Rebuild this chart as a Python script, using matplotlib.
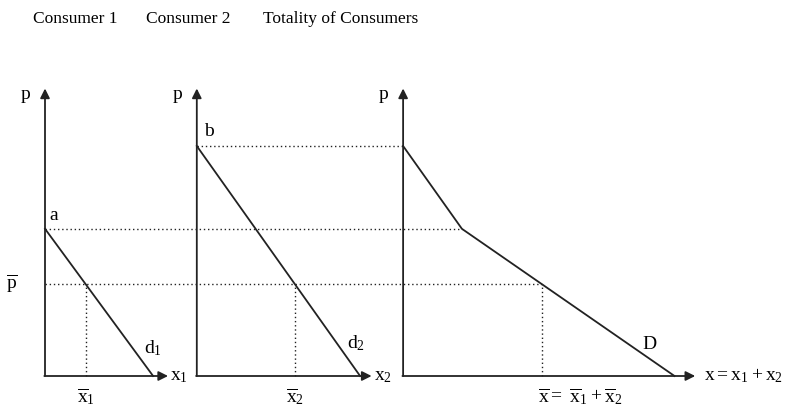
import matplotlib.pyplot as plt
import numpy as np

plt.rcParams['font.family'] = ['Liberation Serif', 'DejaVu Serif']
plt.rcParams['mathtext.fontset'] = 'custom'
plt.rcParams['mathtext.rm'] = 'Liberation Serif'
plt.rcParams['mathtext.it'] = 'Liberation Serif'

# demand data (price intercepts and quantity intercepts)
a = 6.4          # consumer 1 max price
b = 10.0         # consumer 2 max price
x1_max = 4.7     # consumer 1 quantity at p = 0
x2_max = 7.1     # consumer 2 quantity at p = 0
p_bar = 4.0      # market price
titles = ['Consumer 1', 'Consumer 2', 'Totality of Consumers']

# layout: horizontal origin of each panel, axis lengths
origins = [0.0, 6.6, 15.57]
x_axis_len = [5.35, 7.6, 12.7]
y_axis_top = 12.5

def x1(p):
    return np.maximum(x1_max * (1 - p / a), 0)

def x2(p):
    return np.maximum(x2_max * (1 - p / b), 0)

xbar1 = x1(p_bar)
xbar2 = x2(p_bar)
xbar = xbar1 + xbar2
x_kink = x2(a)

ink = '#222222'
fig = plt.figure(figsize=(8.06, 4.11), dpi=100)
ax = fig.add_axes([0, 0, 1, 1])
ax.set_xlim(-45 / 23, (806 - 45) / 23)
ax.set_ylim(-35 / 23, 376 / 23)
ax.axis('off')

o1, o2, o3 = origins

# axes with arrows
for o, L in zip(origins, x_axis_len):
    ax.annotate('', xy=(o, y_axis_top), xytext=(o, 0),
                arrowprops=dict(arrowstyle='-|>', lw=1.3, color=ink, mutation_scale=14, shrinkA=0, shrinkB=0))
    ax.annotate('', xy=(o + L, 0), xytext=(o - 0.03, 0),
                arrowprops=dict(arrowstyle='-|>', lw=1.3, color=ink, mutation_scale=14, shrinkA=0, shrinkB=0))
    ax.text(o - 0.85, y_axis_top - 0.25, 'p', fontsize=14, ha='center', va='center')

# demand curves
ax.plot([o1, o1 + x1_max], [a, 0], color=ink, lw=1.3)
ax.plot([o2, o2 + x2_max], [b, 0], color=ink, lw=1.3)
ax.plot([o3, o3 + x_kink, o3 + x1_max + x2_max], [b, a, 0], color=ink, lw=1.3)

# dotted guides
dot = dict(color=ink, lw=1.0, ls=(0, (1, 2)))
ax.plot([o1, o3 + x_kink], [a, a], **dot)
ax.plot([o2, o3], [b, b], **dot)
ax.plot([o1, o3 + xbar], [p_bar, p_bar], **dot)
ax.plot([o1 + xbar1] * 2, [0, p_bar], **dot)
ax.plot([o2 + xbar2] * 2, [0, p_bar], **dot)
ax.plot([o3 + xbar] * 2, [0, p_bar], **dot)

fs = 14
ax.text(o1 + 0.2, a + 0.2, 'a', fontsize=fs, ha='left', va='bottom')
ax.text(o2 + 0.3, b + 0.25, 'b', fontsize=fs, ha='left', va='bottom')
ax.text(o1 - 1.45, p_bar, r'$\overline{\mathrm{p}}$', fontsize=fs, ha='center', va='center')
ax.text(o1 + 4.3, 1.2, r'$\mathrm{d}_1$', fontsize=fs, ha='left', va='center')
ax.text(o2 + 6.55, 1.45, r'$\mathrm{d}_2$', fontsize=fs, ha='left', va='center')
ax.text(o3 + 10.4, 1.35, 'D', fontsize=fs, ha='left', va='center')
ax.text(o1 + x_axis_len[0] + 0.1, 0, r'$\mathrm{x}_1$', fontsize=fs, ha='left', va='center')
ax.text(o2 + x_axis_len[1] + 0.1, 0, r'$\mathrm{x}_2$', fontsize=fs, ha='left', va='center')
ax.text(o3 + x_axis_len[2] + 0.4, 0, r'$\mathrm{x} = \mathrm{x}_1 + \mathrm{x}_2$', fontsize=fs, ha='left', va='center')
ax.text(o1 + xbar1, -0.45, r'$\overline{\mathrm{x}}_1$', fontsize=fs, ha='center', va='top')
ax.text(o2 + xbar2, -0.45, r'$\overline{\mathrm{x}}_2$', fontsize=fs, ha='center', va='top')
ax.text(o3 + xbar - 0.15, -0.45, r'$\overline{\mathrm{x}} =\ \overline{\mathrm{x}}_1 + \overline{\mathrm{x}}_2$',
        fontsize=fs, ha='left', va='top')

# column titles
for xc, t in zip([75, 188, 341], titles):
    ax.text((xc - 45) / 23, (376 - 19) / 23, t, fontsize=12.5, ha='center', va='center')

fig.savefig('out.png', dpi=100)
